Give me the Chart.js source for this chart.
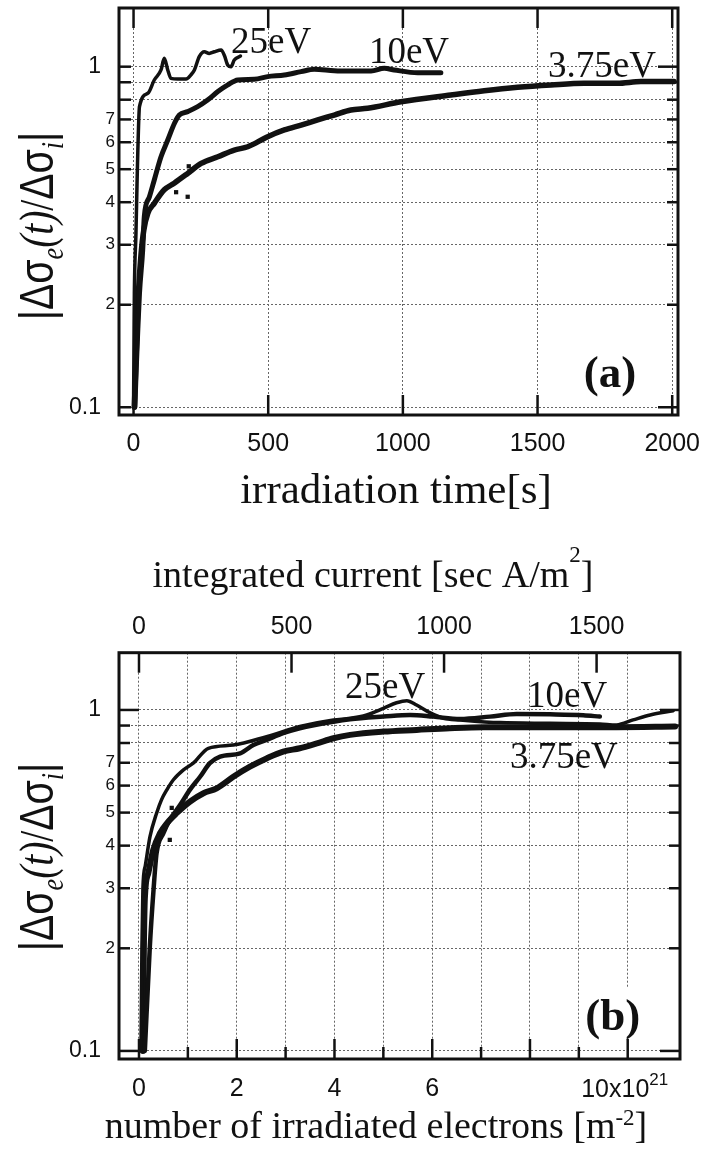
<!DOCTYPE html>
<html>
<head>
<meta charset="utf-8">
<script src="https://cdn.jsdelivr.net/npm/chart.js@4.4.1/dist/chart.umd.min.js"></script>
<style>
  body { margin: 0; background: #fff; }
  #wrap { position: relative; width: 704px; height: 1157px; }
  canvas { position: absolute; left: 0; }
</style>
</head>
<body>
<div id="wrap">
  <canvas id="chartA" width="704" height="530" style="top:0"></canvas>
  <canvas id="chartB" width="704" height="627" style="top:530px"></canvas>
</div>
<script>
const SERIF = '"Liberation Serif", "Times New Roman", serif';
const SANS = '"Liberation Sans", Arial, Helvetica, sans-serif';
const INK = '#111';
const GRID = '#666';

// (a) |Δσe(t)/Δσi| against irradiation time [s]
const timeA25 = [0, 1, 2, 3, 9, 13, 16, 22, 53, 77, 102, 114, 127, 139, 164, 195, 213, 226, 244, 263, 281, 300, 325, 337, 350, 362, 374, 397];
const ratioA25 = [0.10, 0.13, 0.17, 0.216, 0.325, 0.455, 0.569, 0.763, 0.835, 0.914, 0.978, 1.058, 0.978, 0.924, 0.92, 0.92, 0.946, 0.978, 1.07, 1.106, 1.094, 1.106, 1.12, 1.08, 1.01, 1.0, 1.046, 1.075];

const timeA10 = [5, 10, 16, 22, 34, 40, 59, 77, 102, 127, 152, 170, 201, 238, 275, 313, 350, 387, 448, 498, 560, 622, 671, 745, 807, 882, 931, 968, 1055, 1141];
const ratioA10 = [0.10, 0.13, 0.17, 0.216, 0.29, 0.363, 0.415, 0.465, 0.544, 0.609, 0.682, 0.721, 0.738, 0.763, 0.798, 0.845, 0.884, 0.914, 0.918, 0.935, 0.945, 0.967, 0.983, 0.973, 0.971, 0.971, 0.989, 0.978, 0.96, 0.96];

const timeA375 = [3, 8, 13, 18, 28, 38, 53, 77, 114, 151, 201, 251, 313, 374, 424, 498, 560, 622, 684, 745, 807, 869, 993, 1178, 1302, 1426, 1550, 1673, 1797, 1884, 2007];
const ratioA375 = [0.10, 0.13, 0.17, 0.216, 0.283, 0.331, 0.371, 0.397, 0.435, 0.455, 0.486, 0.52, 0.544, 0.569, 0.582, 0.623, 0.652, 0.674, 0.698, 0.721, 0.746, 0.755, 0.789, 0.826, 0.85, 0.87, 0.884, 0.894, 0.894, 0.904, 0.904];

const timeA375Stray = [158, 201, 205];
const ratioA375Stray = [0.428, 0.415, 0.51];

// (b) same ratio against number of irradiated electrons [1e21 m^-2]
const doseB25 = [0.04, 0.06, 0.08, 0.13, 0.225, 0.36, 0.46, 0.57, 0.70, 0.91, 1.11, 1.42, 1.93, 2.61, 3.29, 3.98, 4.32, 4.66, 5.0, 5.27, 5.48, 5.68, 5.95, 6.23, 6.57, 7.39, 8.41, 9.43, 9.77, 10.11, 10.46, 10.93];
const ratioB25 = [0.10, 0.2, 0.3, 0.35, 0.425, 0.498, 0.545, 0.583, 0.623, 0.667, 0.698, 0.772, 0.789, 0.835, 0.894, 0.935, 0.945, 0.967, 1.011, 1.05, 1.065, 1.034, 0.982, 0.945, 0.935, 0.918, 0.914, 0.91, 0.904, 0.935, 0.967, 0.995];

const doseB10 = [0.12, 0.22, 0.30, 0.36, 0.50, 0.63, 0.84, 1.04, 1.25, 1.45, 1.66, 2.07, 2.34, 2.61, 2.95, 3.29, 3.98, 4.32, 5.0, 5.55, 6.02, 6.57, 7.18, 7.73, 8.41, 9.09, 9.43];
const ratioB10 = [0.10, 0.2, 0.3, 0.38, 0.435, 0.476, 0.526, 0.583, 0.637, 0.698, 0.73, 0.746, 0.789, 0.817, 0.855, 0.884, 0.924, 0.939, 0.956, 0.967, 0.956, 0.941, 0.956, 0.973, 0.971, 0.965, 0.956];

const doseB375 = [0.08, 0.10, 0.12, 0.19, 0.29, 0.43, 0.57, 0.77, 1.04, 1.32, 1.59, 1.93, 2.27, 2.61, 2.95, 3.29, 3.64, 3.98, 4.32, 5.0, 5.68, 6.36, 7.05, 8.41, 9.77, 10.97];
const ratioB375 = [0.10, 0.2, 0.28, 0.332, 0.388, 0.435, 0.465, 0.498, 0.538, 0.57, 0.589, 0.637, 0.682, 0.721, 0.755, 0.772, 0.798, 0.826, 0.845, 0.864, 0.874, 0.884, 0.89, 0.89, 0.89, 0.894];

const doseB375Stray = [0.63, 0.67];
const ratioB375Stray = [0.416, 0.516];

// axis ticks
const timeTicks = [0, 500, 1000, 1500, 2000];
const doseTicks = [0, 1, 2, 3, 4, 5, 6, 7, 8, 9, 10];
const doseLabels = ['0', '', '2', '', '4', '', '6', '', '', '', ''];
const doseEndLabel = ['10x10', '21'];   // last tick, with exponent raised
const currentTicks = [0, 500, 1000, 1500];
const ratioTicks = [0.1, 0.2, 0.3, 0.4, 0.5, 0.6, 0.7, 0.8, 0.9, 1.0];
const ratioLabels = ['', '2', '3', '4', '5', '6', '7', '', '', ''];
const ratioMajor = [0.1, 1];
const ratioMajorLabels = ['0.1', '1'];
const energyNames = ['25eV', '10eV', '3.75eV'];

// 1e21 electrons/m^2 carry 160.2 A·s/m^2
const CURRENT_PER_DOSE = 160.2;

function pts(xs, ys) {
  return xs.map((x, i) => ({ x, y: ys[i] }));
}

function curve(label, xs, ys, width) {
  return {
    label, data: pts(xs, ys),
    borderColor: INK, borderWidth: width,
    pointRadius: 0, fill: false,
    cubicInterpolationMode: 'monotone',
    borderJoinStyle: 'round', borderCapStyle: 'round'
  };
}

function strays(label, xs, ys) {
  return {
    label, data: pts(xs, ys), showLine: false,
    pointStyle: 'rect', pointRadius: 3,
    backgroundColor: INK, borderColor: INK, borderWidth: 0
  };
}

function fixedTicks(values) {
  return scale => { scale.ticks = values.map(value => ({ value })); };
}

// fixed box size; no extra room reserved for overhanging labels
function fixSize(w, h) {
  return s => {
    if (w !== null) s.width = w;
    if (h !== null) s.height = h;
    s.paddingLeft = s.paddingRight = s.paddingTop = s.paddingBottom = 0;
  };
}

function ratioAxes(min, max) {
  return {
    y: {
      type: 'logarithmic', axis: 'y', position: 'left', min, max, weight: 0,
      afterBuildTicks: fixedTicks(ratioTicks),
      afterFit: fixSize(16, null),
      grid: { color: GRID, lineWidth: 1, drawTicks: false },
      border: { display: false, dash: [2, 2] },
      ticks: {
        padding: 4, autoSkip: false, color: INK,
        font: { family: SANS, size: 17 },
        callback: v => ratioLabels[ratioTicks.indexOf(v)] || ''
      }
    },
    yMajor: {
      type: 'logarithmic', axis: 'y', position: 'left', min, max, weight: 1,
      afterBuildTicks: fixedTicks(ratioMajor),
      afterFit: fixSize(103, null),
      grid: { display: false, drawTicks: false },
      border: { display: false },
      ticks: {
        padding: 2, autoSkip: false, color: INK,
        font: { family: SANS, size: 23 },
        callback: v => ratioMajorLabels[ratioMajor.indexOf(v)] || ''
      }
    }
  };
}

// text made of runs with their own font and baseline shift
function drawRuns(ctx, runs, x, y, rotate, squeeze) {
  let total = 0;
  runs.forEach(r => { ctx.font = r.font; total += ctx.measureText(r.text).width; });
  ctx.save();
  ctx.translate(x, y);
  if (rotate) ctx.rotate(-Math.PI / 2);
  if (squeeze) ctx.scale(squeeze, 1);
  ctx.textAlign = 'left';
  ctx.textBaseline = 'alphabetic';
  ctx.fillStyle = INK;
  let cx = -total / 2;
  runs.forEach(r => {
    ctx.font = r.font;
    ctx.fillText(r.text, cx, -(r.rise || 0));
    cx += ctx.measureText(r.text).width;
  });
  ctx.restore();
}

const ratioTitle = [
  { text: '|', font: `48px ${SANS}` },
  { text: 'Δσ', font: `48px ${SANS}` },
  { text: 'e', font: `italic 32px ${SERIF}`, rise: -10 },
  { text: '(t)', font: `italic 48px ${SERIF}` },
  { text: '/', font: `48px ${SERIF}` },
  { text: 'Δσ', font: `48px ${SANS}` },
  { text: 'i', font: `italic 32px ${SERIF}`, rise: -10 },
  { text: '|', font: `48px ${SANS}` }
];

// frame, inward tick marks, titles and in-plot labels
function decor(spec) {
  return {
    id: 'decor',
    afterDraw(chart) {
      const ctx = chart.ctx;
      const a = chart.chartArea;
      ctx.save();

      spec.labels.forEach(l => {
        const px = chart.scales.x.getPixelForValue(l.x);
        const py = chart.scales.y.getPixelForValue(l.y);
        ctx.font = l.font;
        if (l.box) {
          const w = ctx.measureText(l.text).width;
          ctx.fillStyle = '#fff';
          ctx.fillRect(px - 3, py - 42, w + 6, 57);
        }
        ctx.fillStyle = INK;
        ctx.textAlign = 'left';
        ctx.textBaseline = 'alphabetic';
        ctx.fillText(l.text, px, py);
      });

      ctx.strokeStyle = INK;
      ctx.lineCap = 'butt';
      ctx.lineWidth = 2.5;
      spec.marks.forEach(m => {
        const s = chart.scales[m.scale];
        m.values.forEach((v, i) => {
          const p = s.getPixelForValue(v);
          const len = m.lengths[i];
          ctx.beginPath();
          if (m.edge === 'bottom') { ctx.moveTo(p, a.bottom); ctx.lineTo(p, a.bottom - len); }
          if (m.edge === 'top') { ctx.moveTo(p, a.top); ctx.lineTo(p, a.top + len); }
          if (m.edge === 'left') { ctx.moveTo(a.left, p); ctx.lineTo(a.left + len, p); }
          if (m.edge === 'right') { ctx.moveTo(a.right, p); ctx.lineTo(a.right - len, p); }
          ctx.stroke();
        });
      });

      ctx.lineWidth = 3;
      ctx.strokeRect(a.left, a.top, a.right - a.left, a.bottom - a.top);

      spec.titles.forEach(t => {
        const x = t.scale ? chart.scales[t.scale].getPixelForValue(t.value) + t.dx : t.x;
        drawRuns(ctx, t.runs, x, t.y, t.rotate, t.squeeze);
      });
      ctx.restore();
    }
  };
}

const decadeLen = ratioTicks.map(v => (v === 0.1 || v === 1 ? 20 : 11));

// ---------- panel (a) ----------
new Chart(document.getElementById('chartA'), {
  type: 'line',
  data: {
    datasets: [
      curve(energyNames[0], timeA25, ratioA25, 3.5),
      curve(energyNames[1], timeA10, ratioA10, 5),
      curve(energyNames[2], timeA375, ratioA375, 5.5),
      strays(energyNames[2], timeA375Stray, ratioA375Stray)
    ]
  },
  options: {
    responsive: false, animation: false, devicePixelRatio: 1,
    layout: { padding: { left: 0, right: 26, top: 8, bottom: 0 } },
    plugins: { legend: { display: false }, tooltip: { enabled: false } },
    scales: {
      x: {
        type: 'linear', position: 'bottom', min: -54, max: 2021.5,
        afterBuildTicks: fixedTicks(timeTicks),
        afterFit: fixSize(null, 115),
        grid: { color: GRID, lineWidth: 1, drawTicks: false },
        border: { display: false, dash: [2, 2] },
        ticks: {
          padding: 14, autoSkip: false, maxRotation: 0, color: INK,
          font: { family: SANS, size: 25 },
          callback: v => String(v)
        }
      },
      ...ratioAxes(0.0949, 1.487)
    }
  },
  plugins: [decor({
    labels: [
      { text: energyNames[0], x: 362, y: 1.097, font: `37px ${SERIF}` },
      { text: energyNames[1], x: 874, y: 1.025, font: `37px ${SERIF}` },
      { text: energyNames[2], x: 1539, y: 0.933, font: `37px ${SERIF}` },
      { text: '(a)', x: 1672, y: 0.1147, font: `bold 45px ${SERIF}`, box: true }
    ],
    marks: [
      { scale: 'x', edge: 'bottom', values: timeTicks, lengths: timeTicks.map(() => 20) },
      { scale: 'x', edge: 'top', values: timeTicks, lengths: timeTicks.map(() => 20) },
      { scale: 'y', edge: 'left', values: ratioTicks, lengths: ratioTicks.map(() => 12) },
      { scale: 'y', edge: 'right', values: ratioTicks, lengths: decadeLen }
    ],
    titles: [
      { runs: ratioTitle, x: 53, y: 226, rotate: true, squeeze: 0.82 },
      { runs: [{ text: 'irradiation time[s]', font: `43px ${SERIF}` }], x: 396, y: 503 }
    ]
  })]
});

// ---------- panel (b) ----------
const doseMin = -0.409;
const doseMax = 11.07;

new Chart(document.getElementById('chartB'), {
  type: 'line',
  data: {
    datasets: [
      curve(energyNames[0], doseB25, ratioB25, 3.5),
      curve(energyNames[1], doseB10, ratioB10, 4.5),
      curve(energyNames[2], doseB375, ratioB375, 6),
      strays(energyNames[2], doseB375Stray, ratioB375Stray)
    ]
  },
  options: {
    responsive: false, animation: false, devicePixelRatio: 1,
    layout: { padding: { left: 0, right: 24, top: 0, bottom: 0 } },
    plugins: { legend: { display: false }, tooltip: { enabled: false } },
    scales: {
      x: {
        type: 'linear', position: 'bottom', min: doseMin, max: doseMax,
        afterBuildTicks: fixedTicks(doseTicks),
        afterFit: fixSize(null, 98),
        grid: { color: GRID, lineWidth: 1, drawTicks: false },
        border: { display: false, dash: [2, 2] },
        ticks: {
          padding: 15, autoSkip: false, maxRotation: 0, color: INK,
          font: { family: SANS, size: 25 },
          callback: v => doseLabels[doseTicks.indexOf(v)] || ''
        }
      },
      x2: {
        type: 'linear', axis: 'x', position: 'top',
        min: doseMin * CURRENT_PER_DOSE, max: doseMax * CURRENT_PER_DOSE,
        afterBuildTicks: fixedTicks(currentTicks),
        afterFit: fixSize(null, 122.7),
        grid: { display: false, drawTicks: false },
        border: { display: false },
        ticks: {
          padding: 11, autoSkip: false, maxRotation: 0, color: INK,
          font: { family: SANS, size: 25 },
          callback: v => String(v)
        }
      },
      ...ratioAxes(0.0947, 1.472)
    }
  },
  plugins: [decor({
    labels: [
      { text: energyNames[0], x: 4.215, y: 1.084, font: `37px ${SERIF}` },
      { text: energyNames[1], x: 7.94, y: 1.02, font: `37px ${SERIF}` },
      { text: energyNames[2], x: 7.59, y: 0.676, font: `37px ${SERIF}` },
      { text: '(b)', x: 9.13, y: 0.1152, font: `bold 45px ${SERIF}`, box: true }
    ],
    marks: [
      { scale: 'x', edge: 'bottom', values: doseTicks, lengths: doseTicks.map(v => (v % 2 === 0 ? 20 : 12)) },
      { scale: 'x2', edge: 'top', values: currentTicks, lengths: currentTicks.map(() => 20) },
      { scale: 'y', edge: 'left', values: ratioTicks, lengths: decadeLen },
      { scale: 'y', edge: 'right', values: ratioTicks, lengths: decadeLen }
    ],
    titles: [
      { runs: ratioTitle, x: 53, y: 327, rotate: true, squeeze: 0.82 },
      {
        runs: [
          { text: doseEndLabel[0], font: `25px ${SANS}` },
          { text: doseEndLabel[1], font: `17px ${SANS}`, rise: 12 }
        ], scale: 'x', value: doseTicks[doseTicks.length - 1], dx: -3, y: 567
      },
      {
        runs: [
          { text: 'integrated current [sec A/m', font: `38px ${SERIF}` },
          { text: '2', font: `23px ${SERIF}`, rise: 25 },
          { text: ']', font: `38px ${SERIF}` }
        ], x: 373, y: 57
      },
      {
        runs: [
          { text: 'number of irradiated electrons [m', font: `38px ${SERIF}` },
          { text: '-2', font: `23px ${SERIF}`, rise: 13 },
          { text: ']', font: `38px ${SERIF}` }
        ], x: 376, y: 608
      }
    ]
  })]
});
</script>
</body>
</html>
